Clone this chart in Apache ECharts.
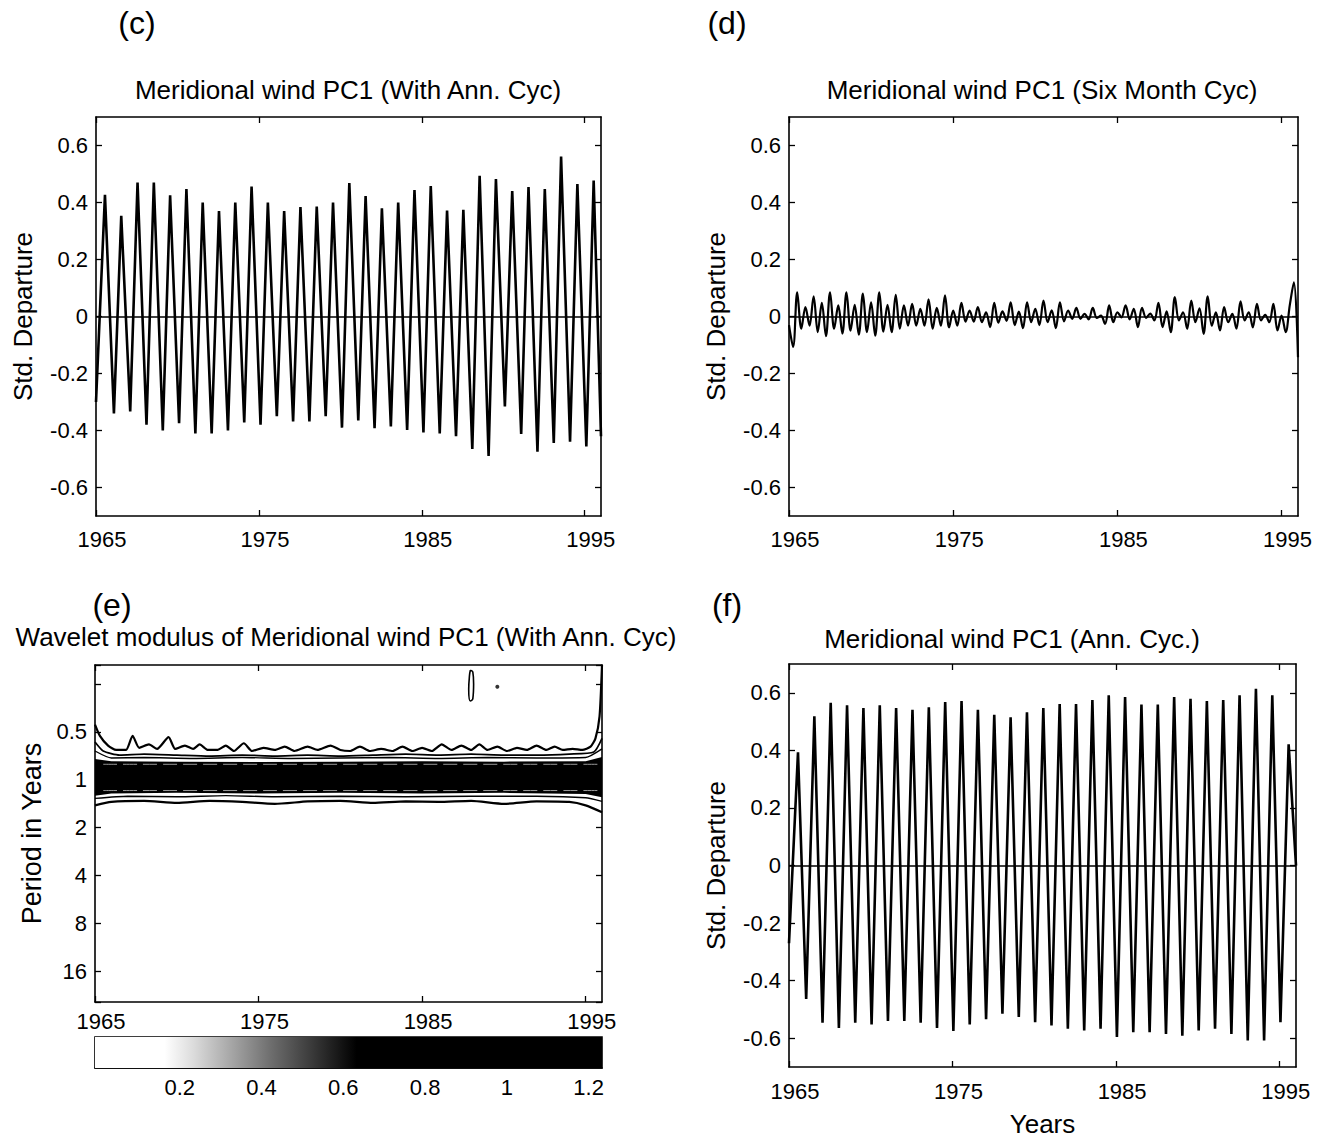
<!DOCTYPE html>
<html><head><meta charset="utf-8">
<script src="https://cdn.jsdelivr.net/npm/echarts@6/dist/echarts.min.js"></script>
<style>html,body{margin:0;padding:0;background:#fff}#chart{width:1326px;height:1139px}</style>
</head><body><div id="chart"></div>
<script>
// ---------- DATA ----------
const years = [1965,1966,1967,1968,1969,1970,1971,1972,1973,1974,1975,1976,1977,1978,1979,1980,1981,1982,1983,1984,1985,1986,1987,1988,1989,1990,1991,1992,1993,1994,1995];
const xTickYears = [1965,1975,1985,1995];
const yTicks = [-0.6,-0.4,-0.2,0,0.2,0.4,0.6];

// (c) Meridional wind PC1 (With Ann. Cyc): yearly peak (mid-year) and trough (early year)
const cPeaks = [0.427,0.353,0.47,0.47,0.425,0.447,0.40,0.37,0.40,0.456,0.40,0.37,0.384,0.386,0.40,0.468,0.423,0.38,0.40,0.444,0.458,0.372,0.374,0.494,0.482,0.44,0.454,0.447,0.561,0.465,0.477];
const cTroughs = [-0.34,-0.333,-0.38,-0.40,-0.374,-0.41,-0.41,-0.40,-0.372,-0.38,-0.35,-0.368,-0.368,-0.35,-0.39,-0.365,-0.392,-0.386,-0.398,-0.407,-0.41,-0.42,-0.465,-0.489,-0.316,-0.412,-0.474,-0.444,-0.439,-0.456];
const cStart = -0.30, cEnd = -0.42;

// (f) Meridional wind PC1 (Ann. Cyc.)
const fPeaks = [0.393,0.518,0.565,0.557,0.547,0.557,0.547,0.541,0.55,0.568,0.571,0.541,0.524,0.515,0.532,0.547,0.561,0.561,0.575,0.591,0.585,0.559,0.559,0.585,0.579,0.571,0.575,0.591,0.614,0.591,0.421];
const fTroughs = [-0.464,-0.546,-0.564,-0.546,-0.552,-0.54,-0.54,-0.546,-0.564,-0.575,-0.552,-0.534,-0.515,-0.526,-0.544,-0.556,-0.567,-0.573,-0.567,-0.596,-0.579,-0.579,-0.585,-0.591,-0.573,-0.567,-0.585,-0.608,-0.608,-0.544];
const fStart = -0.27, fEnd = 0.0;

// (d) Six month cycle: quarterly extremes, 1965.00 .. 1996.00
const dValues = [
 -0.03,-0.107,0.085,-0.043,  0.033,-0.032,0.071,-0.055,  0.048,-0.069,0.085,-0.043,  0.039,-0.060,0.085,-0.050,
  0.041,-0.064,0.080,-0.055,  0.050,-0.067,0.085,-0.053,  0.041,-0.055,0.076,-0.043,  0.039,-0.032,0.044,-0.032,
  0.027,-0.032,0.060,-0.043,  0.030,-0.032,0.074,-0.038,  0.021,-0.032,0.048,-0.018,  0.021,-0.018,0.033,-0.020,
  0.015,-0.037,0.048,-0.022,  0.018,-0.015,0.050,-0.030,  0.017,-0.041,0.050,-0.020,  0.027,-0.030,0.056,-0.020,
  0.022,-0.041,0.050,-0.017,  0.021,-0.008,0.030,-0.008,  0.009,-0.010,0.030,-0.005,  0.003,-0.026,0.039,-0.020,
  0.015,-0.003,0.039,-0.010,  0.027,-0.037,0.030,-0.005,  0.010,-0.014,0.048,-0.037,  0.018,-0.055,0.068,-0.014,
  0.015,-0.043,0.056,-0.020,  0.029,-0.061,0.071,-0.032,  0.015,-0.049,0.033,-0.020,  0.009,-0.043,0.053,-0.014,
  0.015,-0.038,0.044,-0.014,  0.006,-0.020,0.044,-0.049,  0.003,-0.055,0.040,0.120,  -0.143];
const dStep = 0.25;

// (e) Wavelet modulus contours: [year, period in years]
const contourTop = [[1965.0,0.45],[1965.3,0.53],[1965.8,0.61],[1966.3,0.65],[1966.9,0.65],[1967.3,0.53],[1967.7,0.63],[1968.3,0.60],[1968.8,0.64],[1969.5,0.54],[1969.9,0.64],[1970.5,0.61],[1971.0,0.64],[1971.4,0.60],[1971.9,0.65],[1972.5,0.65],[1973.0,0.61],[1973.5,0.66],[1974.1,0.59],[1974.6,0.66],[1975.3,0.63],[1976.0,0.65],[1976.6,0.62],[1977.2,0.66],[1978.0,0.62],[1978.6,0.65],[1979.4,0.61],[1980.0,0.65],[1980.6,0.66],[1981.2,0.62],[1981.8,0.66],[1982.5,0.64],[1983.2,0.66],[1983.8,0.62],[1984.4,0.66],[1985.0,0.63],[1985.6,0.66],[1986.2,0.60],[1986.8,0.65],[1987.4,0.61],[1988.0,0.65],[1988.5,0.60],[1989.0,0.65],[1989.6,0.62],[1990.2,0.66],[1990.8,0.63],[1991.4,0.65],[1992.0,0.61],[1992.6,0.65],[1993.1,0.62],[1993.6,0.65],[1994.2,0.64],[1994.8,0.65],[1995.3,0.62],[1995.6,0.55],[1995.85,0.40],[1996.0,0.19]];
const contour2 = [[1965,0.58],[1965.5,0.66],[1966.5,0.70],[1968,0.69],[1970,0.70],[1972,0.71],[1974,0.70],[1976,0.71],[1978,0.70],[1980,0.71],[1982,0.70],[1984,0.69],[1986,0.70],[1988,0.69],[1990,0.70],[1992,0.70],[1994,0.69],[1995.5,0.67],[1996,0.55]];
const contour3 = [[1965,0.66],[1966,0.73],[1968,0.725],[1971,0.735],[1974,0.725],[1977,0.735],[1980,0.73],[1983,0.725],[1986,0.735],[1989,0.725],[1992,0.73],[1995,0.725],[1996,0.64]];
const bandTop = [[1965,0.74],[1966,0.765],[1970,0.77],[1975,0.775],[1980,0.77],[1985,0.765],[1990,0.77],[1995,0.765],[1996,0.72]];
const bandBottom = [[1965,1.26],[1966,1.22],[1970,1.21],[1975,1.22],[1980,1.21],[1985,1.22],[1990,1.21],[1995,1.23],[1996,1.29]];
const contour4 = [[1965,1.31],[1967,1.27],[1970,1.28],[1973,1.26],[1976,1.28],[1980,1.27],[1984,1.28],[1988,1.27],[1992,1.27],[1995,1.30],[1996,1.37]];
const contourBottom = [[1965,1.45],[1966,1.38],[1968,1.36],[1970,1.40],[1972,1.36],[1974,1.38],[1976,1.42],[1978,1.37],[1980,1.36],[1982,1.40],[1984,1.37],[1986,1.38],[1988,1.36],[1990,1.42],[1992,1.37],[1994,1.38],[1995,1.45],[1996,1.6]];
const bandStreaks = [[[1965.5,0.80],[1996,0.80]],[[1965.5,1.17],[1996,1.17]]];
const contourIsland = [[1987.95,0.205],[1988.1,0.21],[1988.15,0.25],[1988.1,0.31],[1987.95,0.32],[1987.85,0.27],[1987.9,0.22],[1987.95,0.205]];
const contourDot = [[1989.6,0.26]];
const periodLabels = [0.5,1,2,4,8,16];

// colour bar
const cbTicks = [0.2,0.4,0.6,0.8,1,1.2];
const cbStops = [0,0.17,0.24,0.33,0.43,0.53,0.64,1.24];
const cbGrays = ['#ffffff','#ffffff','#dcdcdc','#a8a8a8','#6e6e6e','#3a3a3a','#000000','#000000'];

// ---------- BUILD ----------
const FONT = '"Liberation Sans", Arial, sans-serif';
const TICK_FS = 22, NAME_FS = 26, TITLE_FS = 26;
function annualSeries(start, peaks, troughs, end, peakPhase, troughPhase) {
  const pts = [[years[0], start]];
  for (let i = 0; i < years.length; i++) {
    pts.push([years[i] + peakPhase, peaks[i]]);
    if (i < troughs.length) pts.push([years[i] + 1 + troughPhase, troughs[i]]);
  }
  pts.push([years[years.length - 1] + 1, end]);
  return pts;
}
const cData = annualSeries(cStart, cPeaks, cTroughs, cEnd, 0.55, 0.1);
const fData = annualSeries(fStart, fPeaks, fTroughs, fEnd, 0.55, 0.05);
const dData = dValues.map((v, k) => [years[0] + k * dStep, v]);

const axisLine = {show: true, onZero: false, lineStyle: {color: '#000', width: 1.6}};
const tickStyle = {color: '#000', width: 1.3};
const fmtY = v => Math.abs(v) < 1e-9 ? '0' : (+v).toFixed(1);

function xAx(grid, pos, labels, margin, extra) {
  return Object.assign({
    type: 'value', gridIndex: grid, position: pos, min: 1965, max: 1996,
    axisLine: axisLine,
    axisTick: {show: true, inside: true, length: 6, customValues: xTickYears, lineStyle: tickStyle},
    axisLabel: {show: labels, customValues: xTickYears, color: '#000', fontSize: TICK_FS, fontFamily: FONT, margin: margin,
      padding: [0, 0, 0, 12], formatter: v => String(v)},
    splitLine: {show: false}
  }, extra || {});
}
function yAx(grid, pos, labels, name, gap) {
  return {
    type: 'value', gridIndex: grid, position: pos, min: -0.7, max: 0.7,
    axisLine: axisLine,
    axisTick: {show: true, inside: true, length: 6, customValues: yTicks, lineStyle: tickStyle},
    axisLabel: {show: labels, customValues: yTicks, color: '#000', fontSize: TICK_FS, fontFamily: FONT, margin: 8, formatter: fmtY},
    splitLine: {show: false},
    name: name || '', nameLocation: 'middle', nameRotate: 90, nameGap: gap || 60,
    nameTextStyle: {color: '#000', fontSize: NAME_FS, fontFamily: FONT}
  };
}
function logAx(grid, pos, labels) {
  return {
    type: 'log', logBase: 2, gridIndex: grid, position: pos, min: 0.19, max: 25, inverse: true,
    axisLine: axisLine,
    axisTick: {show: true, inside: true, length: 6, lineStyle: tickStyle},
    axisLabel: {show: labels, color: '#000', fontSize: TICK_FS, fontFamily: FONT, margin: 8,
      formatter: v => { const m = periodLabels.find(l => Math.abs(l - v) < 1e-6 * l); return m === undefined ? '' : String(m); }},
    splitLine: {show: false},
    name: labels ? 'Period in Years' : '', nameLocation: 'middle', nameRotate: 90, nameGap: 50,
    nameTextStyle: {color: '#000', fontSize: 27, fontFamily: FONT}
  };
}

const zeroLine = {silent: true, symbol: 'none', label: {show: false}, lineStyle: {color: '#000', width: 1.6, type: 'solid'}, data: [{yAxis: 0}]};
function tsSeries(data, xi, yi, smooth, width) {
  return {type: 'line', xAxisIndex: xi, yAxisIndex: yi, data: data, showSymbol: false, smooth: smooth || false,
    lineStyle: {color: '#000', width: width || 2}, markLine: zeroLine, animation: false, clip: true};
}
function contourSeries(data, width, color, dash) {
  return {type: 'line', xAxisIndex: 4, yAxisIndex: 4, data: data, showSymbol: false, smooth: 0.2,
    lineStyle: {color: color || '#000', width: width, type: dash || 'solid'}, animation: false, clip: true, silent: true};
}

function txt(text, x, y, size) {
  return {type: 'text', x: x, y: y, silent: true,
    style: {text: text, fill: '#000', font: size + 'px ' + FONT, align: 'center', verticalAlign: 'middle', textAlign: 'center', textVerticalAlign: 'middle'}};
}

const option = {
  backgroundColor: '#fff',
  animation: false,
  grid: [
    {left: 96, top: 117, width: 505, height: 399, show: false},
    {left: 789, top: 117, width: 509, height: 399, show: false},
    {left: 95, top: 665, width: 507, height: 337, show: false},
    {left: 95, top: 1037, width: 507, height: 31, show: true, borderColor: '#000', borderWidth: 1.6},
    {left: 789, top: 664, width: 507, height: 403, show: false}
  ],
  xAxis: [
    xAx(0, 'bottom', true, 12),
    xAx(0, 'top', false, 8),
    xAx(1, 'bottom', true, 12),
    xAx(1, 'top', false, 8),
    xAx(2, 'bottom', true, 8),
    xAx(2, 'top', false, 8),
    {type: 'value', gridIndex: 3, min: 0, max: 1.24, position: 'bottom',
      axisLine: axisLine,
      axisTick: {show: true, inside: true, length: 5, customValues: cbTicks, lineStyle: tickStyle},
      axisLabel: {customValues: cbTicks, color: '#000', fontSize: TICK_FS, fontFamily: FONT, margin: 8, padding: [0, 0, 0, 6], formatter: v => String(+(+v).toFixed(1))},
      splitLine: {show: false}},
    xAx(4, 'bottom', true, 13, {name: 'Years', nameLocation: 'middle', nameGap: 44, nameTextStyle: {color: '#000', fontSize: NAME_FS, fontFamily: FONT}}),
    xAx(4, 'top', false, 8)
  ],
  yAxis: [
    yAx(0, 'left', true, 'Std. Departure', 60),
    yAx(0, 'right', false),
    yAx(1, 'left', true, 'Std. Departure', 60),
    yAx(1, 'right', false),
    logAx(2, 'left', true),
    logAx(2, 'right', false),
    {type: 'value', gridIndex: 3, min: 0, max: 1, show: false},
    yAx(4, 'left', true, 'Std. Departure', 60),
    yAx(4, 'right', false)
  ],
  series: [
    tsSeries(cData, 0, 0, false, 2.6),
    tsSeries(dData, 2, 2, 0.35, 2.2),
    tsSeries(fData, 7, 7, false, 2.6),
    {type: 'custom', xAxisIndex: 4, yAxisIndex: 4, data: [[1980, 1]], silent: true, animation: false, clip: true,
      renderItem: (params, api) => {
        const pts = bandTop.map(p => api.coord(p)).concat(bandBottom.slice().reverse().map(p => api.coord(p)));
        return {type: 'polygon', shape: {points: pts}, style: {fill: '#000'}};
      }},
    contourSeries(bandStreaks[0], 1, '#9a9a9a', [14, 6]),
    contourSeries(bandStreaks[1], 1, '#9a9a9a', [14, 6]),
    contourSeries(contourTop, 2.2),
    contourSeries(contour2, 1.7),
    contourSeries(contour3, 1.4),
    contourSeries(contour4, 1.4),
    contourSeries(contourBottom, 2.2),
    {type: 'line', xAxisIndex: 4, yAxisIndex: 4, data: contourIsland, showSymbol: false, smooth: 0.4,
      lineStyle: {color: '#000', width: 1.6}, animation: false, silent: true},
    {type: 'scatter', xAxisIndex: 4, yAxisIndex: 4, data: contourDot, symbolSize: 4, itemStyle: {color: '#000'}, silent: true, animation: false},
    {type: 'custom', xAxisIndex: 6, yAxisIndex: 6, data: [[0, 0]], silent: true, animation: false,
      renderItem: (params, api) => {
        const a = api.coord([cbStops[0], 1]);
        const b = api.coord([cbStops[cbStops.length - 1], 0]);
        const span = cbStops[cbStops.length - 1] - cbStops[0];
        const stops = cbStops.map((s, i) => ({offset: (s - cbStops[0]) / span, color: cbGrays[i]}));
        return {type: 'rect', shape: {x: a[0], y: a[1], width: b[0] - a[0], height: b[1] - a[1]},
          style: {fill: new echarts.graphic.LinearGradient(0, 0, 1, 0, stops)}};
      }}
  ],
  graphic: [
    txt('(c)', 137, 23, 32),
    txt('(d)', 727, 23, 32),
    txt('(e)', 112, 605, 32),
    txt('(f)', 727, 605, 32),
    txt('Meridional wind PC1 (With Ann. Cyc)', 348, 90, TITLE_FS),
    txt('Meridional wind PC1 (Six Month Cyc)', 1042, 90, TITLE_FS),
    txt('Wavelet modulus of Meridional wind PC1 (With Ann. Cyc)', 346, 637, TITLE_FS),
    txt('Meridional wind PC1 (Ann. Cyc.)', 1012, 639, TITLE_FS)
  ]
};

const chart = echarts.init(document.getElementById('chart'), null, {renderer: 'svg', width: 1326, height: 1139});
chart.setOption(option);
</script>
</body></html>
